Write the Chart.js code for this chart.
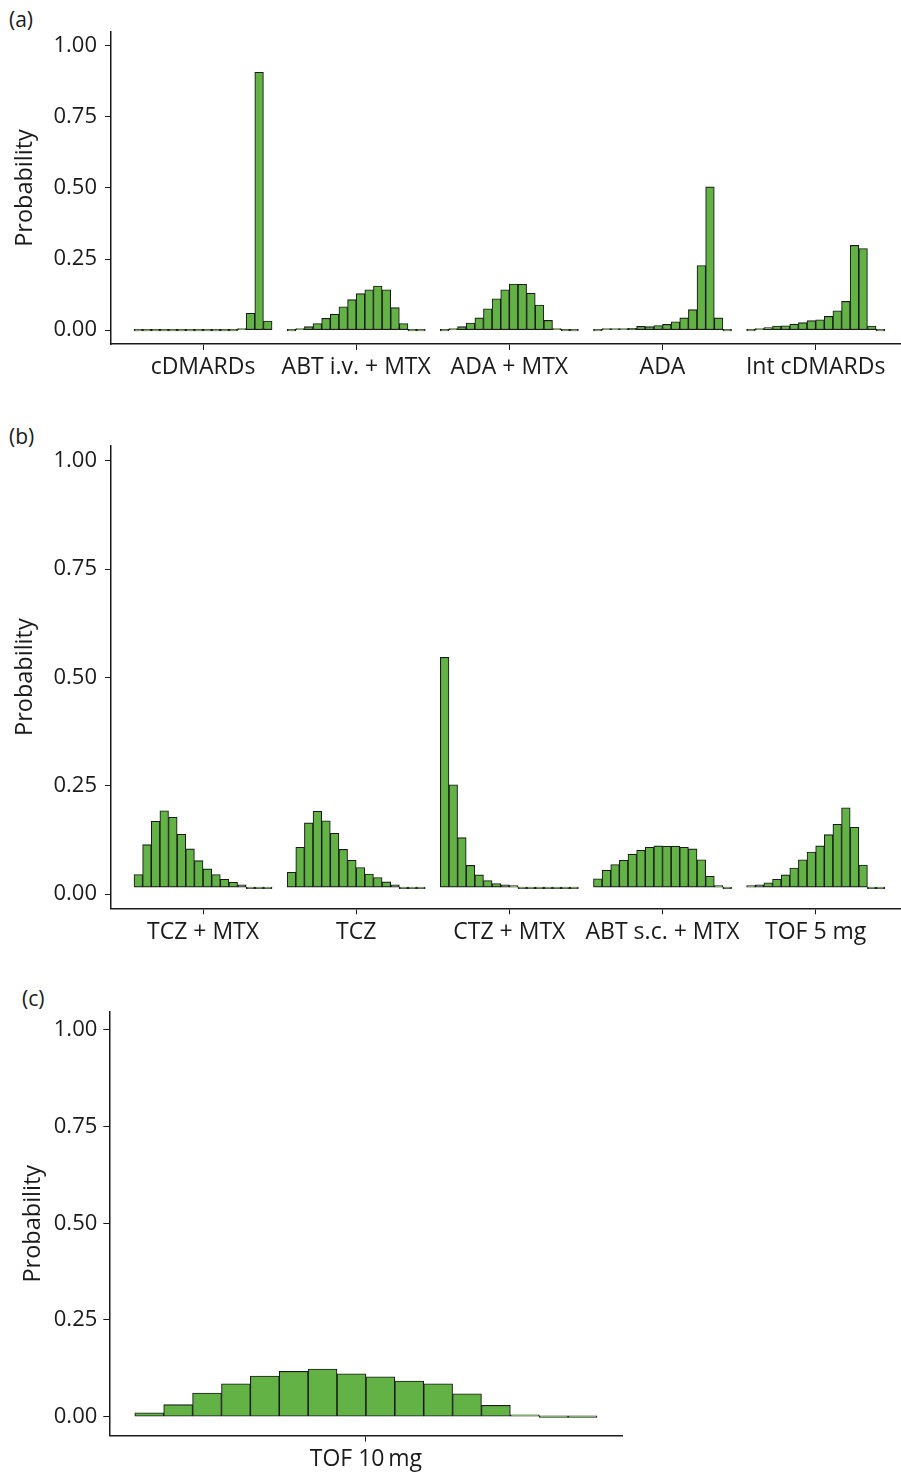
<!DOCTYPE html>
<html>
<head>
<meta charset="utf-8">
<script src="https://cdn.jsdelivr.net/npm/chart.js@4.4.1/dist/chart.umd.min.js"></script>
<style>
  body { margin: 0; width: 901px; height: 1475px; position: relative; background: #fff; overflow: hidden;
         font-family: 'Open Sans', sans-serif; color: #1a1a1a; }
  canvas { position: absolute; left: 0; }
  .lettre { position: absolute; font-size: 21px; line-height: 24px; }
</style>
</head>
<body>
<div class="lettre" style="left:9px; top:7px">(a)</div>
<div class="lettre" style="left:9px; top:424px">(b)</div>
<div class="lettre" style="left:22px; top:986px">(c)</div>
<canvas id="panel-a" width="901" height="400" style="top:0px"></canvas>
<canvas id="panel-b" width="901" height="560" style="top:400px"></canvas>
<canvas id="panel-c" width="901" height="515" style="top:960px"></canvas>
<script>
// rank probabilities, 16 ranks per treatment
const rangs = 16
const y_ticks = [0, 0.25, 0.5, 0.75, 1]

// (a)
const noms_a = ['cDMARDs', 'ABT i.v. + MTX', 'ADA + MTX', 'ADA', 'Int cDMARDs']
const cdmards = [0, 0, 0, 0, 0, 0, 0, 0, 0, 0, 0, 0, 0.002, 0.059, 0.907, 0.032]
const abt_iv_mtx = [0, 0.003, 0.012, 0.023, 0.041, 0.056, 0.082, 0.107, 0.128, 0.142, 0.155, 0.142, 0.079, 0.023, 0, 0]
const ada_mtx = [0, 0.002, 0.012, 0.025, 0.043, 0.075, 0.110, 0.142, 0.162, 0.161, 0.130, 0.088, 0.034, 0.005, 0, 0]
const ada = [0, 0.005, 0.005, 0.005, 0.006, 0.013, 0.012, 0.016, 0.020, 0.029, 0.043, 0.072, 0.227, 0.504, 0.043, 0]
const int_cdmards = [0, 0.005, 0.009, 0.014, 0.015, 0.021, 0.026, 0.033, 0.036, 0.048, 0.068, 0.101, 0.298, 0.287, 0.014, 0]

// (b)
const noms_b = ['TCZ + MTX', 'TCZ', 'CTZ + MTX', 'ABT s.c. + MTX', 'TOF 5 mg']
const tcz_mtx = [0.029, 0.098, 0.152, 0.176, 0.161, 0.122, 0.088, 0.061, 0.042, 0.029, 0.018, 0.011, 0.005, 0, 0, 0]
const tcz = [0.034, 0.092, 0.148, 0.175, 0.153, 0.124, 0.087, 0.062, 0.045, 0.030, 0.022, 0.012, 0.005, 0, 0, 0]
const ctz_mtx = [0.530, 0.236, 0.114, 0.050, 0.028, 0.015, 0.008, 0.005, 0.002, 0, 0, 0, 0, 0, 0, 0]
const abt_sc_mtx = [0.019, 0.039, 0.052, 0.062, 0.076, 0.085, 0.092, 0.095, 0.094, 0.094, 0.092, 0.088, 0.063, 0.025, 0.001, 0]
const tof_5 = [0.002, 0.005, 0.010, 0.018, 0.028, 0.044, 0.063, 0.081, 0.095, 0.121, 0.145, 0.183, 0.138, 0.051, 0, 0]

// (c)
const noms_c = ['TOF 10\u2009mg']
const tof_10 = [0.010, 0.031, 0.061, 0.085, 0.105, 0.117, 0.123, 0.111, 0.103, 0.092, 0.085, 0.059, 0.029, 0.005, 0, 0]

const pas_groupe = 17.75   // distance between two treatments, in bar widths
const vert = '#63b246'
const noir = '#1a1a1a'
const police = { family: "'Open Sans', sans-serif", size: 22 }
const police_x = { family: "'Open Sans', sans-serif", size: 23 }
const police_titre = { family: "'Open Sans', sans-serif", size: 23.5 }

function panel(id, noms, series, cfg) {
    let points = []
    series.forEach((valeurs, g) => {
        for (i = 0; i < valeurs.length; i++) {
            const x = g * pas_groupe + i + 0.5
            const v = valeurs[i]
            // panel (b) bars sit slightly above the zero line in the figure
            points.push({ x: x, y: cfg.decalage ? [cfg.decalage, cfg.decalage + v] : v })
        }
    })
    const centres = noms.map((n, g) => g * pas_groupe + rangs / 2)

    const ctx = document.getElementById(id).getContext('2d')
    return new Chart(ctx, {
        type: 'bar',
        data: {
            datasets: [{
                data: points,
                backgroundColor: vert,
                borderColor: noir,
                borderWidth: 1.1,
                borderSkipped: false,
                minBarLength: 1.5,
                categoryPercentage: 1,
                barPercentage: 1
            }]
        },
        options: {
            responsive: false,
            animation: false,
            layout: { padding: { top: cfg.haut, right: cfg.droite, left: 0, bottom: 0 } },
            plugins: {
                legend: { display: false },
                tooltip: { enabled: false }
            },
            scales: {
                x: {
                    type: 'linear',
                    min: cfg.xmin,
                    max: cfg.xmax,
                    offset: false,
                    grid: { drawOnChartArea: false, drawTicks: true, tickLength: 6, color: noir, offset: false },
                    border: { display: true, color: noir, width: 1.5 },
                    afterBuildTicks: s => { s.ticks = centres.map(v => ({ value: v })) },
                    afterFit: s => { s.height = cfg.hautX },
                    ticks: {
                        autoSkip: false, maxRotation: 0, minRotation: 0, padding: 4,
                        color: noir, font: police_x,
                        callback: (v, i) => noms[i]
                    }
                },
                y: {
                    min: cfg.ymin,
                    max: cfg.ymax,
                    grid: { drawOnChartArea: false, drawTicks: true, tickLength: 6, color: noir },
                    border: { display: true, color: noir, width: 1.5 },
                    afterBuildTicks: s => { s.ticks = y_ticks.map(v => ({ value: v })) },
                    afterFit: s => { s.width = cfg.largeurY },
                    ticks: { padding: cfg.padY, color: noir, font: police, callback: v => v.toFixed(2) },
                    title: { display: true, text: 'Probability', color: noir, font: police_titre, padding: { top: cfg.titreY } }
                }
            }
        }
    })
}

panel('panel-a', noms_a, [cdmards, abt_iv_mtx, ada_mtx, ada, int_cdmards], {
    haut: 32, droite: 0, hautX: 56, largeurY: 111, padY: 8, titreY: 11,
    xmin: -2.665, xmax: 88.89, ymin: -0.049, ymax: 1.049
})

panel('panel-b', noms_b, [tcz_mtx, tcz, ctz_mtx, abt_sc_mtx, tof_5], {
    haut: 46, droite: 0, hautX: 51.7, largeurY: 111, padY: 8, titreY: 11,
    xmin: -2.665, xmax: 88.89, ymin: -0.033, ymax: 1.034, decalage: 0.016
})

panel('panel-c', noms_c, [tof_10], {
    haut: 51.8, droite: 279, hautX: 39.4, largeurY: 109.3, padY: 6, titreY: 19,
    xmin: -0.883, xmax: 16.865, ymin: -0.049, ymax: 1.047
})
</script>
</body>
</html>
